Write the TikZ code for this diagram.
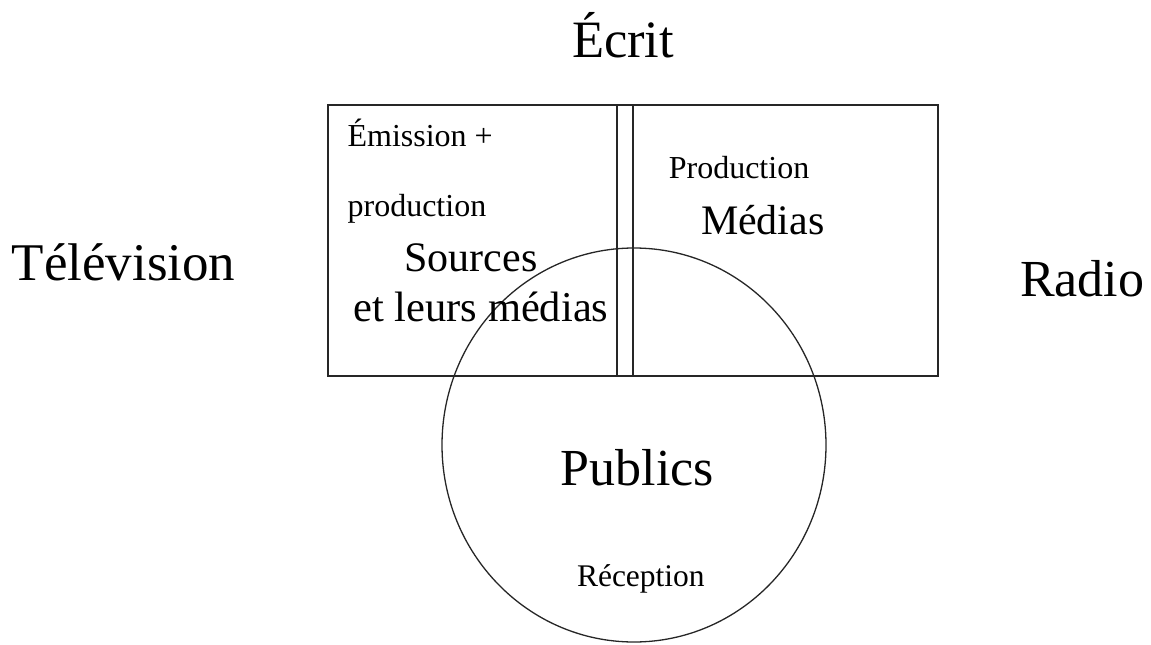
\documentclass[tikz,border=0pt]{standalone}
\usepackage{fontspec}
\setmainfont{Liberation Serif}
\begin{document}
\begin{tikzpicture}[x=1pt,y=-1pt,
  lbl/.style={anchor=base west,inner sep=0pt,outer sep=0pt},
  big/.style={lbl,font=\fontsize{52.5}{60}\selectfont},
  mid/.style={lbl,font=\fontsize{42}{48}\selectfont},
  small/.style={lbl,font=\fontsize{32}{36}\selectfont},
  outline/.style={draw=black!85,line width=1.3pt}]
\useasboundingbox (0,0) rectangle (1151,645);
% shapes
\draw[outline] (328,105) rectangle (938,376);
\draw[outline] (617,105) rectangle (633,376);
\draw[outline] (634,445) ellipse [x radius=192, y radius=197];
% outer labels
\node[big] (ecrit) at (572,57.4) {Écrit};
\node[big,font=\fontsize{53}{60}\selectfont] (tele) at (11.7,280.3) {Télévision};
\node[big,font=\fontsize{52}{60}\selectfont] (radio) at (1020,296.7) {Radio};
% inner labels
\node[small] (emission) at (347.6,146) {Émission +};
\node[small] (prodl) at (347.6,216) {production};
\node[small] (prodr) at (668.8,178.4) {Production};
\node[mid] (medias) at (701,234.2) {Médias};
\node[mid] (sources) at (404.5,271.9) {Sources};
\node[mid,font=\fontsize{42.5}{48}\selectfont] (leurs) at (353.5,321.3) {et leurs médias};
\node[big,font=\fontsize{52}{60}\selectfont] (publics) at (560.7,485) {Publics};
\node[small,font=\fontsize{31.5}{36}\selectfont] (reception) at (577,586) {Réception};
\end{tikzpicture}
\end{document}
